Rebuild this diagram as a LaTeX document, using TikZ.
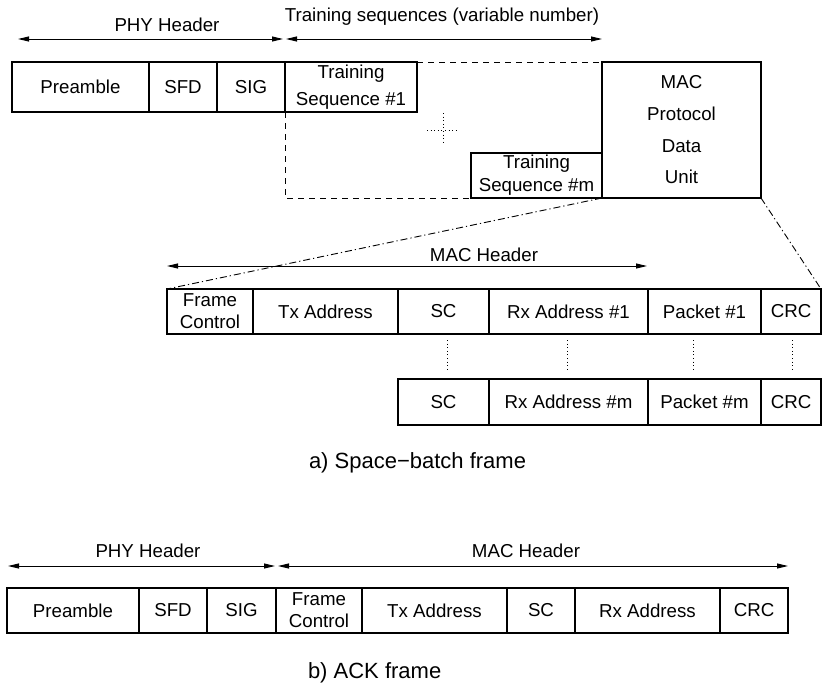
\documentclass[tikz,border=0pt]{standalone}
\usepackage{fontspec}
\setmainfont{Liberation Sans}
\usetikzlibrary{arrows.meta}
\begin{document}
\begin{tikzpicture}[x=1pt,y=-1pt,
  field/.style={draw, line width=1.1pt, inner sep=0pt, outer sep=0pt, font=\fontsize{18.7}{22}\selectfont, align=center},
  lbl/.style={inner sep=0pt, outer sep=0pt, font=\fontsize{18.7}{22}\selectfont},
  captext/.style={inner sep=0pt, outer sep=0pt, font=\fontsize{22}{26}\selectfont},
  dim/.style={{Triangle[length=11pt,width=5pt]}-{Triangle[length=11pt,width=5pt]}, line width=1pt},
  dashedline/.style={line width=1pt, dash pattern=on 6pt off 5pt},
  dashdot/.style={line width=0.9pt, dash pattern=on 7pt off 3pt on 1.2pt off 3pt},
  dotline/.style={line width=1pt, dash pattern=on 1pt off 2.6pt},
]
\useasboundingbox (0,0) rectangle (822,691);

% ---------- a) top frame ----------
\node[field, minimum width=137pt, minimum height=50pt] (pre) at (80.5,87) {Preamble};
\node[field, minimum width=68pt, minimum height=50pt] (sfd) at (183,87) {SFD};
\node[field, minimum width=68pt, minimum height=50pt] (sig) at (251,87) {SIG};
\node[field, minimum width=132pt, minimum height=50pt, font=\fontsize{18.7}{27}\selectfont] (ts1) at (351,87) {Training\\Sequence \#1};
\node[field, minimum width=159pt, minimum height=136pt, font=\fontsize{18.7}{31.7}\selectfont] (mac) at (681.5,130) {MAC\\Protocol\\Data\\Unit};
\node[field, minimum width=131pt, minimum height=45pt, font=\fontsize{18.7}{23}\selectfont] (tsm) at (536.5,175.5) {Training\\Sequence \#m};

\draw[dashedline] (ts1.north east) -- (mac.north west);
\draw[dashedline] (ts1.south west) |- (tsm.south west);

% dotted cross
\coordinate (cxT) at (443,113);
\coordinate (cxB) at (443,145);
\coordinate (cxL) at (427,130);
\coordinate (cxR) at (459,130);
\draw[dotline] (cxT) -- (cxB);
\draw[dotline] (cxL) -- (cxR);

% dimension arrows top
\coordinate (phyA) at (18,39);
\coordinate (phyB) at (283,39);
\coordinate (trA) at (286,39);
\coordinate (trB) at (602,39);
\draw[dim] (phyA) -- (phyB);
\draw[dim] (trA) -- (trB);
\node[lbl, anchor=base] (phyT) at (167,31) {PHY Header};
\node[lbl, anchor=base] (trT) at (442,21) {Training sequences (variable number)};

% ---------- MAC header detail ----------
\node[field, minimum width=86pt, minimum height=45pt] (fc1) at (210,311.5) {Frame\\Control};
\node[field, minimum width=145pt, minimum height=45pt] (tx1) at (325.5,311.5) {Tx Address};
\node[field, minimum width=91pt, minimum height=45pt] (sc1) at (443.5,311.5) {\raisebox{-3pt}{SC}};
\node[field, minimum width=159pt, minimum height=45pt] (rx1) at (568.5,311.5) {Rx Address \#1};
\node[field, minimum width=113pt, minimum height=45pt] (pk1) at (704.5,311.5) {Packet \#1};
\node[field, minimum width=60pt, minimum height=45pt] (crc1) at (791,311.5) {CRC};

\node[field, minimum width=91pt, minimum height=46pt] (sc2) at (443.5,402) {\raisebox{-4pt}{SC}};
\node[field, minimum width=159pt, minimum height=46pt] (rx2) at (568.5,402) {Rx Address \#m};
\node[field, minimum width=113pt, minimum height=46pt] (pk2) at (704.5,402) {Packet \#m};
\node[field, minimum width=60pt, minimum height=46pt] (crc2) at (791,402) {CRC};

\draw[dotline] ([xshift=3.5pt,yshift=-6pt]sc1.south) -- ([xshift=3.5pt,yshift=7pt]sc2.north);
\draw[dotline] ([xshift=-1.5pt,yshift=-6pt]rx1.south) -- ([xshift=-1.5pt,yshift=7pt]rx2.north);
\draw[dotline] ([xshift=-11.5pt,yshift=-6pt]pk1.south) -- ([xshift=-11.5pt,yshift=7pt]pk2.north);
\draw[dotline] ([xshift=1pt,yshift=-6pt]crc1.south) -- ([xshift=1pt,yshift=7pt]crc2.north);

\draw[dashdot] (tsm.south east) -- (fc1.north west);
\draw[dashdot] (mac.south east) -- (crc1.north east);

\coordinate (mhA) at (167,266);
\coordinate (mhB) at (647,266);
\draw[dim] (mhA) -- (mhB);
\node[lbl, anchor=base] (mhT) at (484,261) {MAC Header};

\node[captext, anchor=base west] (capa) at (309,468) {a) Space\symbol{"2212}batch frame};

% ---------- b) ACK frame ----------
\node[field, minimum width=132pt, minimum height=45pt] (bpre) at (73,610.5) {Preamble};
\node[field, minimum width=68pt, minimum height=45pt] (bsfd) at (173,610.5) {SFD};
\node[field, minimum width=69pt, minimum height=45pt] (bsig) at (241.5,610.5) {SIG};
\node[field, minimum width=86pt, minimum height=45pt] (bfc) at (319,610.5) {Frame\\Control};
\node[field, minimum width=145pt, minimum height=45pt] (btx) at (434.5,610.5) {Tx Address};
\node[field, minimum width=68pt, minimum height=45pt] (bsc) at (541,610.5) {SC};
\node[field, minimum width=145pt, minimum height=45pt] (brx) at (647.5,610.5) {Rx Address};
\node[field, minimum width=68pt, minimum height=45pt] (bcrc) at (754,610.5) {CRC};

\coordinate (bphyA) at (8,566);
\coordinate (bphyB) at (275,566);
\coordinate (bmacA) at (278,566);
\coordinate (bmacB) at (788,566);
\draw[dim] (bphyA) -- (bphyB);
\draw[dim] (bmacA) -- (bmacB);
\node[lbl, anchor=base] (bphyT) at (148,557) {PHY Header};
\node[lbl, anchor=base] (bmacT) at (526,557) {MAC Header};

\node[captext, anchor=base west] (capb) at (308,678) {b) ACK frame};
\end{tikzpicture}
\end{document}
